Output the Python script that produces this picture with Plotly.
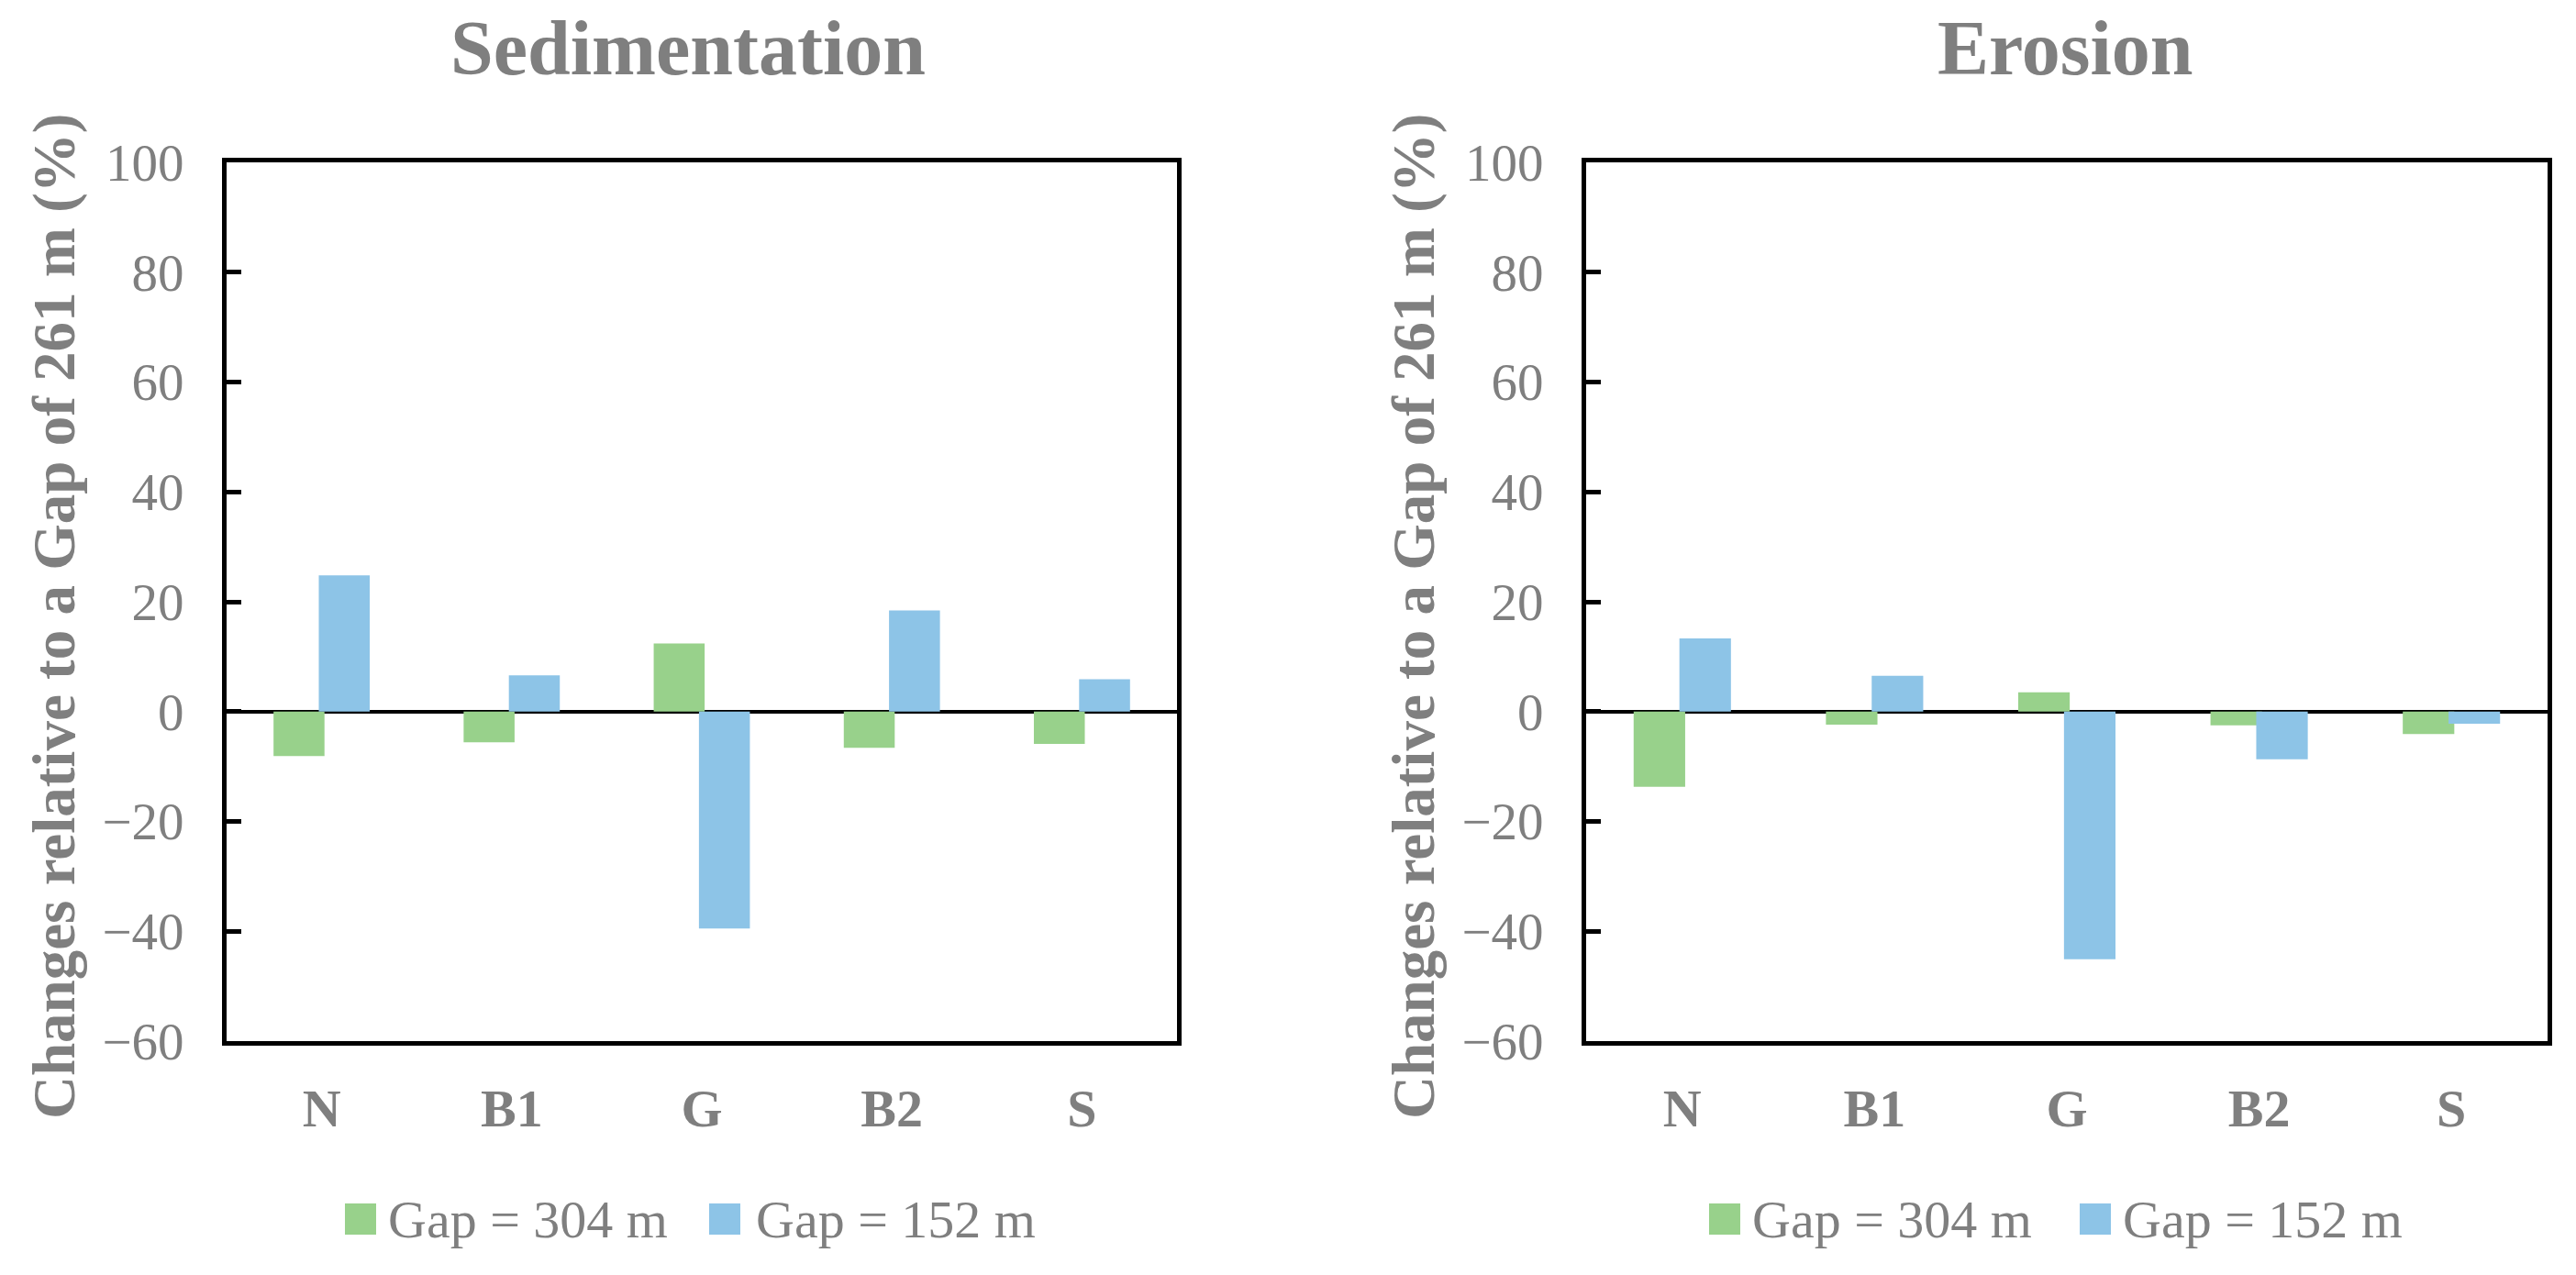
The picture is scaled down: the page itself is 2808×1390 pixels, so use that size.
import plotly.graph_objects as go

# ---------------- data ----------------
categories = ["N", "B1", "G", "B2", "S"]
sed_304 = [-8.1, -5.6, 12.4, -6.6, -5.9]
sed_152 = [24.8, 6.6, -39.5, 18.4, 5.9]
ero_304 = [-13.7, -2.4, 3.5, -2.5, -4.1]
ero_152 = [13.3, 6.5, -45.1, -8.7, -2.2]
series_names = ["Gap = 304 m", "Gap = 152 m"]
panel_titles = ["Sedimentation", "Erosion"]
y_title = "Changes relative to a Gap of 261 m (%)"

# ---------------- style ----------------
W, H = 2808, 1390
GREEN = "#98D18B"
BLUE = "#8DC4E7"
GREY = "#7F7F7F"
FONT = "Liberation Serif, Times New Roman, serif"
BAR_W = 0.268
OFF_A = -0.253
OFF_B = -0.015


def fx(p):
    return p / W


def fy(p):
    return 1 - p / H


fig = go.Figure()

panels = [
    dict(vals=(sed_304, sed_152), xa="x", ya="y"),
    dict(vals=(ero_304, ero_152), xa="x2", ya="y2"),
]
for pnl in panels:
    for vals, name, col, off in zip(pnl["vals"], series_names, [GREEN, BLUE], [OFF_A, OFF_B]):
        fig.add_trace(go.Bar(
            x=categories, y=vals, name=name, marker=dict(color=col, line=dict(width=0)),
            width=BAR_W, offset=off, xaxis=pnl["xa"], yaxis=pnl["ya"], showlegend=False,
        ))

x_domains = [(247, 1283), (1729, 2777)]
y_dom = [fy(1135), fy(177)]

common_x = dict(
    type="category", showline=True, mirror=True, linecolor="black", linewidth=5,
    ticks="", showgrid=False, zeroline=False,
    tickfont=dict(family=FONT, size=58, color=GREY, weight="bold"),
    ticklabelstandoff=18, automargin=False, fixedrange=True,
)
common_y = dict(
    range=[-60, 100], dtick=20, tick0=0, showline=True, mirror=True, linecolor="black", linewidth=5,
    ticks="inside", ticklen=16, tickwidth=5, tickcolor="black", showgrid=False,
    zeroline=True, zerolinecolor="black", zerolinewidth=4,
    tickfont=dict(family=FONT, size=57, color=GREY),
    ticklabelstandoff=30, automargin=False, fixedrange=True,
)

fig.update_layout(
    width=W, height=H, margin=dict(l=0, r=0, t=0, b=0),
    paper_bgcolor="white", plot_bgcolor="white",
    barmode="overlay", showlegend=False,
    xaxis=dict(domain=[fx(x_domains[0][0]), fx(x_domains[0][1])], anchor="y", **common_x),
    yaxis=dict(domain=y_dom, anchor="x", **common_y),
    xaxis2=dict(domain=[fx(x_domains[1][0]), fx(x_domains[1][1])], anchor="y2", **common_x),
    yaxis2=dict(domain=y_dom, anchor="x2", **common_y),
)

# panel titles
title_x = [750, 2251]
for tx, txt in zip(title_x, panel_titles):
    fig.add_annotation(
        text=txt, xref="paper", yref="paper", x=fx(tx), y=fy(53), xanchor="center", yanchor="middle",
        showarrow=False, font=dict(family=FONT, size=84, color=GREY, weight="bold"),
    )

# y-axis titles
ytitle_x = [59, 1541]
for tx in ytitle_x:
    fig.add_annotation(
        text=y_title, xref="paper", yref="paper", x=fx(tx), y=fy(672), xanchor="center", yanchor="middle",
        textangle=-90, showarrow=False, font=dict(family=FONT, size=65, color=GREY, weight="bold"),
    )

# legends (one under each panel)
legend_items = [
    [(376, 421, GREEN), (773, 822, BLUE)],
    [(1863, 1908, GREEN), (2267, 2312, BLUE)],
]
LEG_Y = 1329
SQ = 34
for items in legend_items:
    for (sx, tx, col), name in zip(items, series_names):
        fig.add_shape(
            type="rect", xref="paper", yref="paper",
            x0=fx(sx), x1=fx(sx + SQ), y0=fy(LEG_Y + SQ / 2), y1=fy(LEG_Y - SQ / 2),
            fillcolor=col, line=dict(width=0),
        )
        fig.add_annotation(
            text=name, xref="paper", yref="paper", x=fx(tx), y=fy(LEG_Y), xanchor="left", yanchor="middle",
            showarrow=False, font=dict(family=FONT, size=58, color=GREY),
        )

fig.write_html("out.html", config={"displayModeBar": False},
               post_script="document.body.style.margin='0';document.body.style.overflow='hidden';")
